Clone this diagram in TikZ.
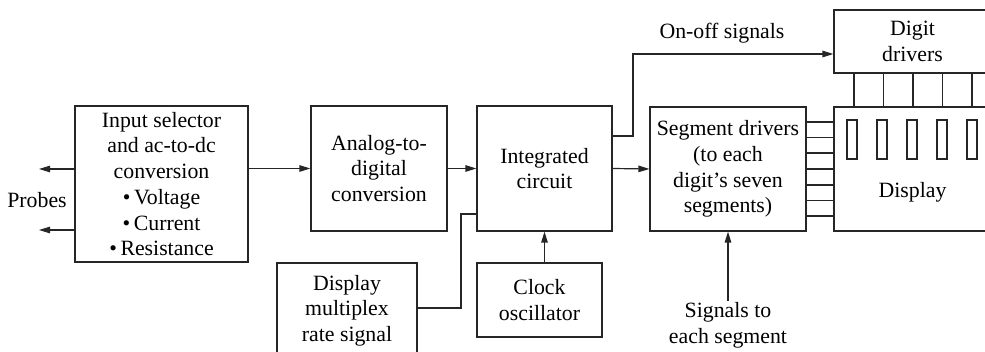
\documentclass[tikz,border=0pt]{standalone}
\usepackage{fontspec}
\setmainfont{Liberation Serif}
\usetikzlibrary{arrows.meta}
\tikzset{
  box/.style={draw=black!85, line width=1.2pt, inner sep=0pt, align=center,
    font=\fontsize{21.8}{25.7}\selectfont},
  txt/.style={inner sep=1pt, align=center, font=\fontsize{21.8}{25.7}\selectfont},
  wire/.style={draw=black!85, line width=1.2pt},
  arr/.style={wire, -{Triangle[length=11pt,width=6.5pt]}},
}
\begin{document}
\begin{tikzpicture}[x=1pt,y=-1pt]
\useasboundingbox (0,0) rectangle (985,352);
\clip (0,0) rectangle (985,352);
\node[box, minimum width=173pt, minimum height=156pt] (inp) at (161.5,184)
  {Input selector\\and ac-to-dc\\conversion\\•\,Voltage\\•\,Current\\•\,Resistance};
\node[box, minimum width=136pt, minimum height=125pt] (adc) at (379,168.5)
  {Analog-to-\\digital\\conversion};
\node[box, minimum width=135pt, minimum height=125pt] (ic) at (544.5,168.5)
  {Integrated\\circuit};
\node[box, minimum width=156pt, minimum height=124pt] (sd) at (728,169)
  {Segment drivers\\(to each\\digit’s seven\\segments)};
\node[box, minimum width=157pt, minimum height=63pt] (dd) at (912.5,41.5)
  {Digit\\drivers};
\node[box, minimum width=157pt, minimum height=124pt] (disp) at (912.5,169) {};
\node[txt] (displbl) at (912.5,192) {Display};
\node[box, minimum width=140pt, minimum height=95pt] (dm) at (347,310.5)
  {Display\\multiplex\\rate signal};
\node[box, minimum width=125pt, minimum height=74pt] (clk) at (539.5,300)
  {Clock\\oscillator};
\node[txt] (probes) at (37,200) {Probes};
\node[txt] (onoff) at (722,33) {On-off signals};
\node[txt] (sig) at (728,325) {Signals to\\each segment};
\coordinate (p1) at (39,169);
\coordinate (p2) at (39,230);
% probes
\draw[arr] (inp.west |- p1) -- (p1);
\draw[arr] (inp.west |- p2) -- (p2);
% main chain
\draw[arr] (inp.east |- adc.west) -- (adc.west);
\draw[arr] (adc.east) -- (ic.west);
\draw[arr] (ic.east) -- (sd.west);
% on-off signals
\coordinate (oo1) at (633,136);
\coordinate (oo2) at (633,54);
\draw[arr] (ic.east |- oo1) -- (oo1) -- (oo2) -- (dd.west |- oo2);
% display multiplex
\coordinate (m1) at (461,308);
\coordinate (m2) at (461,214);
\draw[wire] (dm.east |- m1) -- (m1) -- (m2) -- (ic.west |- m2);
% clock
\draw[arr] (ic.south |- clk.north) -- (ic.south);
% signals to each segment
\draw[arr] (sig.north -| sd.south) -- (sd.south);
% segment lines
\foreach \y in {122,137.5,153,169,185,200.5,216}
  \draw[wire] (sd.east |- 0,\y) -- (disp.west |- 0,\y);
% digit lines
\foreach \x in {854,883.5,913,942.5,972}
  \draw[wire] (\x,0 |- dd.south) -- (\x,0 |- disp.north);
% display digits
\foreach \x in {847,877,907,937,967}
  \draw[wire] (\x,120) rectangle ++(10,39);
\end{tikzpicture}
\end{document}
